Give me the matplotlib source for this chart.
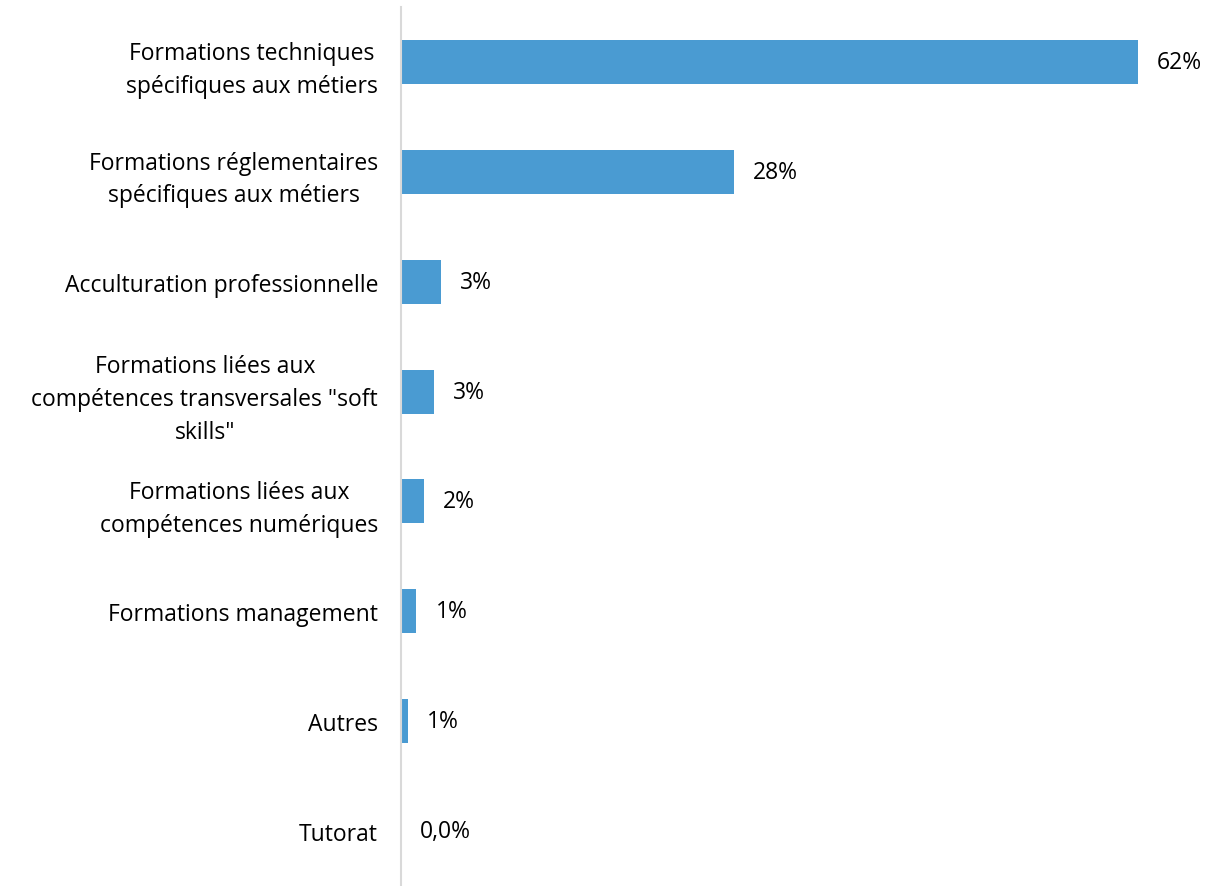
import matplotlib.pyplot as plt
from matplotlib.transforms import ScaledTranslation

categories = [
    "Formations techniques\nspécifiques aux métiers",
    "Formations réglementaires\nspécifiques aux métiers",
    "Acculturation professionnelle",
    "Formations liées aux\ncompétences transversales \"soft\nskills\"",
    "Formations liées aux\ncompétences numériques",
    "Formations management",
    "Autres",
    "Tutorat",
]
values = [62.0, 28.0, 3.4, 2.8, 1.9, 1.3, 0.6, 0.0]
value_labels = ["62%", "28%", "3%", "3%", "2%", "1%", "1%", "0,0%"]

plt.rcParams['font.family'] = ['Open Sans', 'DejaVu Sans']

fig = plt.figure(figsize=(12.26, 8.87), dpi=100)
ax = fig.add_axes([401 / 1226, 0.0, 1 - 401 / 1226, 1 - 8 / 887])

pos = list(range(len(categories)))
ax.barh(pos, values, height=0.4, color='#4A9BD2')
ax.set_ylim(len(categories) - 0.5, -0.5)
ax.set_xlim(0, 825 / 11.89)

# value labels, fixed pixel gap after bar end
off = ScaledTranslation(19 / 100, 0, fig.dpi_scale_trans)
for p, v, lab in zip(pos, values, value_labels):
    ax.text(v, p, lab, va='center', ha='left', fontsize=16.5, color='#000000',
            transform=ax.transData + off)

ax.set_yticks(pos)
ax.set_yticklabels(categories, fontsize=16.5, ha='right', multialignment='center',
                   linespacing=1.48)
ax.tick_params(axis='y', length=0, pad=16.5)
ax.set_xticks([])
for s in ['top', 'right', 'bottom']:
    ax.spines[s].set_visible(False)
ax.spines['left'].set_color('#D9D9D9')
ax.spines['left'].set_linewidth(1.5)

fig.savefig('out.png', dpi=100)
